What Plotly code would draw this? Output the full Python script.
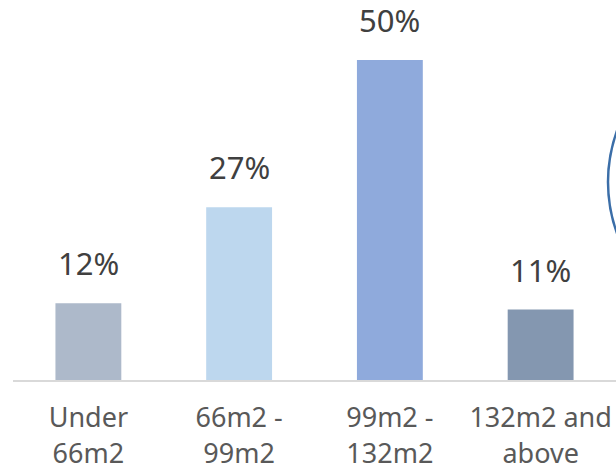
import plotly.graph_objects as go

categories = ["Under<br>66m2", "66m2 -<br>99m2", "99m2 -<br>132m2", "132m2 and<br>above"]
values = [12, 27, 50, 11]
labels = ["12%", "27%", "50%", "11%"]
colors = ["#adb9ca", "#bdd7ee", "#8faadc", "#8497b0"]

W, H = 616, 472
ml, mr, mt, mb = 13, 0, 0, 92
pw, ph = W - ml - mr, H - mt - mb

fig = go.Figure()
fig.add_trace(go.Bar(
    x=categories, y=values, marker=dict(color=colors, line=dict(width=0)),
    hoverinfo="skip",
))

for c, v, t in zip(categories, values, labels):
    fig.add_annotation(x=c, y=v, text=t, showarrow=False, xref="x", yref="y",
                       yanchor="bottom", yshift=17,
                       font=dict(family="Noto Sans", size=31, color="#404040"))

# partial circle at right edge
cx, cy, r = 759, 182, 151
fig.add_shape(type="circle", xref="paper", yref="paper",
              xsizemode="pixel", ysizemode="pixel",
              xanchor=(cx - ml) / pw, yanchor=(H - mb - cy) / ph,
              x0=-r, x1=r, y0=-r, y1=r,
              line=dict(color="#3b6ea8", width=2.5), fillcolor="rgba(0,0,0,0)")

fig.update_layout(
    width=W, height=H,
    margin=dict(l=ml, r=mr, t=mt, b=mb, pad=0),
    paper_bgcolor="white", plot_bgcolor="white",
    bargap=0.563, showlegend=False,
    font=dict(family="Noto Sans", color="#595959"),
)
fig.update_xaxes(showline=True, linecolor="#d9d9d9", linewidth=2,
                 tickfont=dict(family="Noto Sans", size=27, color="#595959"),
                 ticks="", ticklabelstandoff=13, automargin=False,
                 showgrid=False, range=[-0.5, 3.5])
fig.update_yaxes(visible=False, range=[0, ph / 6.4], showgrid=False, zeroline=False,
                 automargin=False)

fig.write_html("out.html")
